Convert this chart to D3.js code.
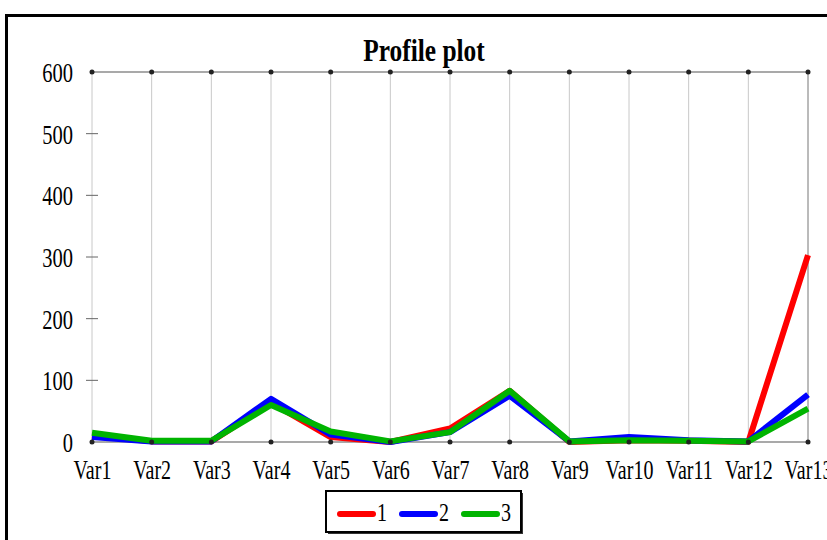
<!DOCTYPE html>
<html><head><meta charset="utf-8">
<script src="https://cdn.jsdelivr.net/npm/d3@7"></script>
<style>body{margin:0;background:#fff}svg{display:block}</style>
</head><body>
<svg id="c" width="827" height="540"></svg>
<script>
const categories = ["Var1","Var2","Var3","Var4","Var5","Var6","Var7","Var8","Var9","Var10","Var11","Var12","Var13"];
const series1 = [10, 1, 1, 64, 8, 0, 22, 83, 0, 3, 2, 0, 303];
const series2 = [8, 1, 1, 70, 12, 0, 16, 75, 1, 8, 3, 1, 77];
const series3 = [15, 2, 2, 60, 17, 1, 16, 83, 1, 3, 2, 1, 54];
const seriesNames = ["1","2","3"];
const seriesColors = ["#ff0000","#0000ff","#00b400"];
const yTicks = [0,100,200,300,400,500,600];

const svg = d3.select("#c");
const font = "'Liberation Serif','Times New Roman',serif";
svg.append("rect").attr("x",6.5).attr("y",15.5).attr("width",900).attr("height",600)
  .attr("fill","#fff").attr("stroke","#000").attr("stroke-width",3);

const x = d3.scalePoint().domain(categories).range([92,808]);
const y = d3.scaleLinear().domain([0,600]).range([442,72]);

// vertical gridlines
svg.append("g").selectAll("line").data(categories).join("line")
  .attr("x1",d=>x(d)).attr("x2",d=>x(d)).attr("y1",y(0)).attr("y2",y(600))
  .attr("stroke",(d,i)=>i===categories.length-1?"#777":"#c8c8c8").attr("stroke-width",1);

// top and bottom lines
[0,600].forEach(v=>{
  svg.append("line").attr("x1",x(categories[0])).attr("x2",x(categories[categories.length-1]))
    .attr("y1",y(v)).attr("y2",y(v)).attr("stroke","#555").attr("stroke-width",1.2);
});

// y axis
const yAxis = d3.axisLeft(y).tickValues(yTicks).tickSize(0).tickPadding(0);
const gy = svg.append("g").attr("transform",`translate(${x(categories[0])},0)`).call(yAxis);
gy.select(".domain").remove();
gy.selectAll("text").attr("font-family",font).attr("font-size",20.5).attr("fill","#000")
  .attr("dy",null).attr("x",0).attr("y",0).attr("text-anchor","end")
  .attr("transform","translate(-19,9.5) scale(1,1.38)");
svg.append("g").selectAll("line").data(yTicks.filter(t=>t>0&&t<600)).join("line")
  .attr("x1",x(categories[0])-6).attr("x2",x(categories[0])+6)
  .attr("y1",d=>y(d)).attr("y2",d=>y(d)).attr("stroke","#666");

// x axis labels
const xAxis = d3.axisBottom(x).tickSize(0).tickPadding(0);
const gx = svg.append("g").attr("transform",`translate(0,${y(0)})`).call(xAxis);
gx.select(".domain").remove();
gx.selectAll("text").attr("font-family",font).attr("font-size",20).attr("fill","#000")
  .attr("dy",null).attr("y",0).attr("transform","translate(0,37) scale(1,1.4)");

// lines
const line = d3.line().x((d,i)=>x(categories[i])).y(d=>y(d));
[series1,series2,series3].forEach((s,k)=>{
  svg.append("path").datum(s).attr("d",line).attr("fill","none")
    .attr("stroke",seriesColors[k]).attr("stroke-width",6).attr("stroke-linejoin","round");
});

// dots
[0,600].forEach(v=>{
  svg.append("g").selectAll("circle").data(categories).join("circle")
    .attr("cx",d=>x(d)).attr("cy",y(v)).attr("r",2.5).attr("fill","#222");
});

// title
svg.append("text").attr("transform","translate(424,61) scale(1,1.26)").attr("text-anchor","middle")
  .attr("font-family",font).attr("font-weight","bold").attr("font-size",25.4).text("Profile plot");

// legend
const lg = svg.append("g");
lg.append("rect").attr("x",328).attr("y",493).attr("width",195).attr("height",41).attr("fill","#333");
lg.append("rect").attr("x",326).attr("y",491).attr("width",195).attr("height",41)
  .attr("fill","#fff").attr("stroke","#000").attr("stroke-width",2);
const lx = [340,402,464];
seriesNames.forEach((n,k)=>{
  lg.append("line").attr("x1",lx[k]).attr("x2",lx[k]+33).attr("y1",514).attr("y2",514)
    .attr("stroke",seriesColors[k]).attr("stroke-width",6).attr("stroke-linecap","round");
  lg.append("text").attr("transform",`translate(${lx[k]+37},521) scale(1,1.3)`).attr("font-family",font)
    .attr("font-size",20).attr("fill","#000").text(n);
});
</script>
</body></html>
